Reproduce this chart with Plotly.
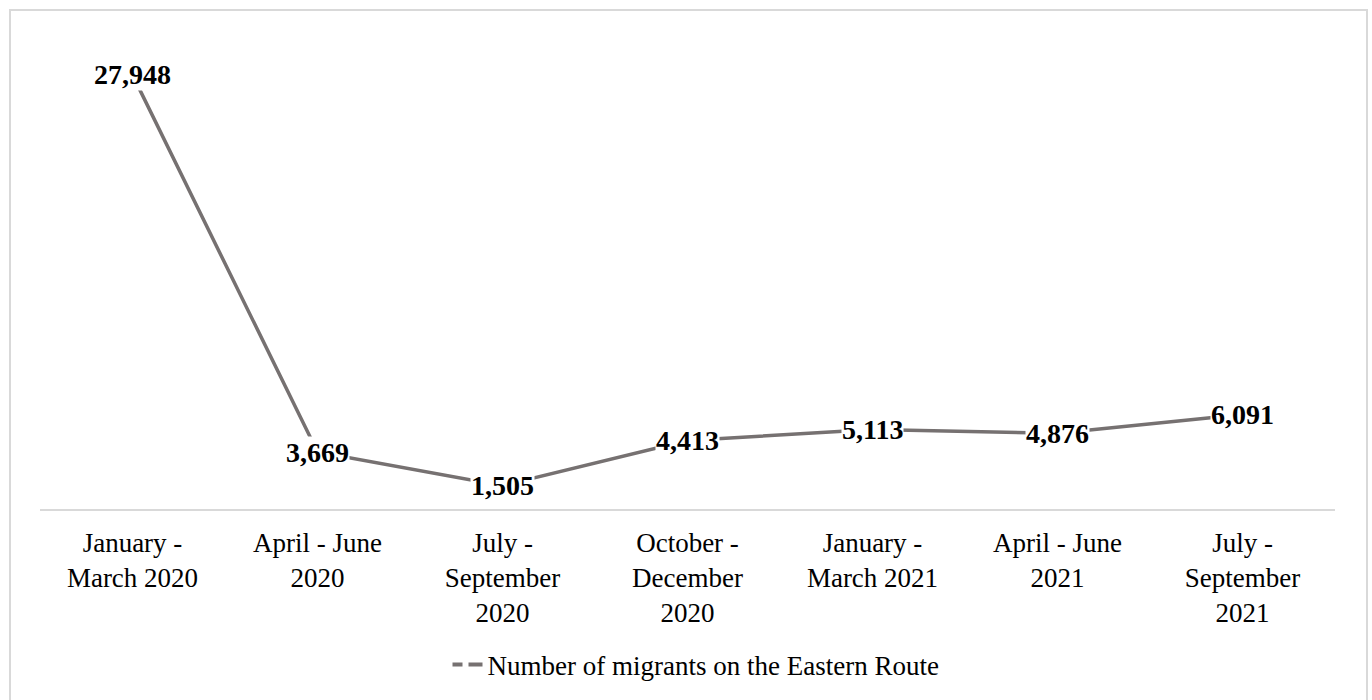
import plotly.graph_objects as go

categories = [
    "January - March 2020",
    "April - June 2020",
    "July - September 2020",
    "October - December 2020",
    "January - March 2021",
    "April - June 2021",
    "July - September 2021",
]
tick_labels = [
    "January -<br>March 2020",
    "April - June<br>2020",
    "July -<br>September<br>2020",
    "October -<br>December<br>2020",
    "January -<br>March 2021",
    "April - June<br>2021",
    "July -<br>September<br>2021",
]
migrants = [27948, 3669, 1505, 4413, 5113, 4876, 6091]
series_name = "Number of migrants on the Eastern Route"

LINE_COLOR = "#767171"
FONT = "Liberation Serif"

xs = list(range(len(categories)))

fig = go.Figure()
fig.add_trace(go.Scatter(
    x=xs, y=migrants, mode="lines",
    line=dict(color=LINE_COLOR, width=3.5),
    showlegend=False, hoverinfo="skip",
))
# legend entry (dashed symbol as in the reference)
fig.add_trace(go.Scatter(
    x=[None], y=[None], mode="lines", name=series_name,
    line=dict(color=LINE_COLOR, width=4, dash="10px,6px,30px"),
    showlegend=True,
))

annotations = []
for x, v in zip(xs, migrants):
    annotations.append(dict(
        x=x, y=v, xref="x", yref="y",
        text=f"<b>{v:,}</b>", showarrow=False,
        font=dict(family=FONT, size=28, color="black"),
        bgcolor="white", borderpad=0,
        xanchor="center", yanchor="middle",
    ))

L, R, T, B = 40, 1335, 43, 510
W, H = 1372, 700
pw, ph = R - L, B - T

def px_x(p):
    return (p - L) / pw

def px_y(p):
    return (B - p) / ph

fig.update_layout(
    width=W, height=H,
    margin=dict(l=L, r=W - R, t=T, b=H - B, pad=0),
    paper_bgcolor="white", plot_bgcolor="white",
    font=dict(family=FONT, color="black"),
    xaxis=dict(
        range=[-0.5, len(categories) - 0.5],
        tickvals=xs, ticktext=tick_labels,
        tickfont=dict(family=FONT, size=27, color="black"),
        showgrid=False, zeroline=False,
        showline=True, linecolor="#d9d9d9", linewidth=1.5,
        ticks="", ticklabelstandoff=9,
        fixedrange=True,
    ),
    yaxis=dict(range=[0, 30000], visible=False, fixedrange=True),
    legend=dict(
        orientation="h", x=px_x(696), y=px_y(665),
        xanchor="center", yanchor="middle",
        font=dict(family=FONT, size=27, color="black"),
        bgcolor="rgba(0,0,0,0)",
    ),
    annotations=annotations,
    shapes=[dict(
        type="rect", xref="paper", yref="paper",
        x0=px_x(10), x1=px_x(1367), y0=px_y(720), y1=px_y(10),
        line=dict(color="#d9d9d9", width=2), fillcolor="rgba(0,0,0,0)",
        layer="below",
    )],
)

fig.write_html("out.html")
